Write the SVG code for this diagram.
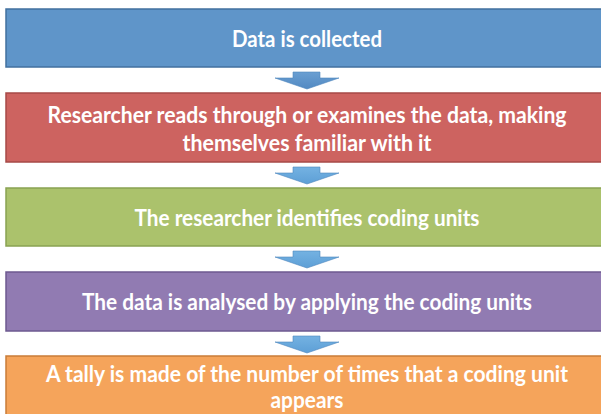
<svg xmlns="http://www.w3.org/2000/svg" width="601" height="414" viewBox="0 0 601 414">
  <style>
    .box { stroke-width: 1.5; }
    .lbl { font-family: Lato, "Liberation Sans", sans-serif; font-weight: bold; font-size: 22px; fill: #ffffff; text-anchor: middle; }
    .arr { stroke: #4f86bd; stroke-width: 0.6; }
  </style>
  <defs>
    <linearGradient id="ag" x1="0" y1="0" x2="0" y2="1">
      <stop offset="0" stop-color="#74b2e2"/>
      <stop offset="1" stop-color="#5d9fd6"/>
    </linearGradient>
    <linearGradient id="ag1" x1="0" y1="0" x2="0" y2="1">
      <stop offset="0" stop-color="#6a9fd2"/>
      <stop offset="1" stop-color="#5289c2"/>
    </linearGradient>
  </defs>
  <rect width="601" height="414" fill="#ffffff"/>

  <g id="connectors">
    <path class="arr" fill="url(#ag1)" d="M293,72 H320 V78 H339 L307,89 L275,78 H293 Z"/>
    <path class="arr" fill="url(#ag)" d="M293,167 H320 V173 H339 L307,184 L275,173 H293 Z"/>
    <path class="arr" fill="url(#ag)" d="M293,251 H320 V257 H339 L307,268 L275,257 H293 Z"/>
    <path class="arr" fill="url(#ag)" d="M293,336 H320 V342 H339 L307,353 L275,342 H293 Z"/>
  </g>

  <g id="node1">
    <rect class="box" x="6" y="9" width="605" height="58" fill="#5f95c9" stroke="#42709f"/>
    <text class="lbl" x="307" y="47" textLength="150" lengthAdjust="spacingAndGlyphs">Data is collected</text>
  </g>
  <g id="node2">
    <rect class="box" x="6" y="93" width="605" height="69" fill="#cd6360" stroke="#a64a47"/>
    <text class="lbl" x="307" y="122.5" textLength="519" lengthAdjust="spacingAndGlyphs">Researcher reads through or examines the data, making</text>
    <text class="lbl" x="307" y="150.5" textLength="249" lengthAdjust="spacingAndGlyphs">themselves familiar with it</text>
  </g>
  <g id="node3">
    <rect class="box" x="6" y="188" width="605" height="58" fill="#abc26c" stroke="#89a252"/>
    <text class="lbl" x="307" y="226" textLength="345" lengthAdjust="spacingAndGlyphs">The researcher identifies coding units</text>
  </g>
  <g id="node4">
    <rect class="box" x="6" y="272" width="605" height="59" fill="#917bb2" stroke="#6d5a90"/>
    <text class="lbl" x="307" y="310" textLength="450" lengthAdjust="spacingAndGlyphs">The data is analysed by applying the coding units</text>
  </g>
  <g id="node5">
    <rect class="box" x="6" y="356" width="605" height="70" fill="#f5a45b" stroke="#c97c38"/>
    <text class="lbl" x="307" y="382" textLength="522" lengthAdjust="spacingAndGlyphs">A tally is made of the number of times that a coding unit</text>
    <text class="lbl" x="307" y="407.5" textLength="73" lengthAdjust="spacingAndGlyphs">appears</text>
  </g>
</svg>
